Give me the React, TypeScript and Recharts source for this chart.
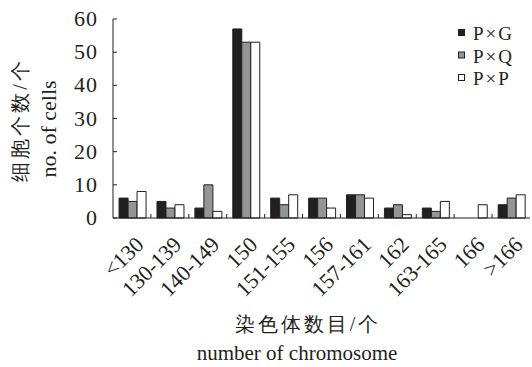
import React from 'react';
import { BarChart, Bar, XAxis, YAxis } from 'recharts';

// 染色体数目分布 — three crosses
const categories = ['<130', '130-139', '140-149', '150', '151-155', '156', '157-161', '162', '163-165', '166', '>166'];
const pxg = [6, 5, 3, 57, 6, 6, 7, 3, 3, 0, 4];
const pxq = [5, 3, 10, 53, 4, 6, 7, 4, 2, 0, 6];
const pxp = [8, 4, 2, 53, 7, 3, 6, 1, 5, 4, 7];
const yTicks = [0, 10, 20, 30, 40, 50, 60];

const series = [
  { key: 'pxg', name: 'P×G', fill: '#231f20' },
  { key: 'pxq', name: 'P×Q', fill: '#939598' },
  { key: 'pxp', name: 'P×P', fill: '#ffffff' },
];

const data = categories.map((c, i) => ({ cat: c, pxg: pxg[i], pxq: pxq[i], pxp: pxp[i] }));

const FONT = '"Liberation Serif", "Times New Roman", serif';
const INK = '#231f20';
const W = 532;
const H = 367;
const LEFT = 113;
const RIGHT = 2;
const TOP = 19;
const XH = 149;
const band = (W - LEFT - RIGHT) / categories.length;

const XTick = (props: any) => {
  const { x, payload, index } = props;
  const axisY = H - XH;
  return (
    <g>
      {index < categories.length - 1 && (
        <line x1={x + band / 2} x2={x + band / 2} y1={axisY} y2={axisY - 4} stroke={INK} strokeWidth={1} />
      )}
      <text
        transform={`translate(${x + 13},${axisY + 28}) rotate(-45)`}
        textAnchor="end"
        fontFamily={FONT}
        fontSize={22}
        fill={INK}
      >
        {payload.value}
      </text>
    </g>
  );
};

const YTick = (props: any) => {
  const { y, payload } = props;
  return (
    <g>
      <line x1={LEFT} x2={LEFT + 4} y1={y} y2={y} stroke={INK} strokeWidth={1} />
      <text x={LEFT - 15} y={y} dy={7} textAnchor="end" fontFamily={FONT} fontSize={22} letterSpacing={1} fill={INK}>
        {payload.value}
      </text>
    </g>
  );
};

export default function App() {
  return (
    <div style={{ position: 'absolute', left: 0, top: 0, width: W, height: H, background: '#fff' }}>
      <BarChart
        width={W}
        height={H}
        data={data}
        margin={{ top: TOP, right: RIGHT, left: 0, bottom: 0 }}
        barCategoryGap="16%"
        barGap={0}
      >
        <XAxis
          dataKey="cat"
          interval={0}
          height={XH}
          tick={<XTick />}
          tickLine={false}
          axisLine={{ stroke: INK, strokeWidth: 1 }}
        />
        <YAxis
          domain={[0, 60]}
          ticks={yTicks}
          width={LEFT}
          tick={<YTick />}
          tickLine={false}
          axisLine={{ stroke: INK, strokeWidth: 1 }}
        />
        {series.map((s) => (
          <Bar key={s.key} dataKey={s.key} name={s.name} fill={s.fill} stroke={INK} strokeWidth={1} isAnimationActive={false} />
        ))}
      </BarChart>
      <svg width={W} height={H} style={{ position: 'absolute', left: 0, top: 0, pointerEvents: 'none' }}>
        {/* legend */}
        {series.map((s, i) => (
          <g key={s.key}>
            <rect x={458.5} y={29.5 + i * 22.5} width={6} height={6} fill={s.fill} stroke={INK} strokeWidth={1} />
            <text x={473} y={40 + i * 22.5} fontFamily={FONT} fontSize={19} letterSpacing={2} fill={INK}>
              {s.name}
            </text>
          </g>
        ))}
        {/* axis titles */}
        <text transform="translate(27,120) rotate(-90)" textAnchor="middle" fontFamily={FONT} fontSize={20} letterSpacing={3} fill={INK}>
          细胞个数/个
        </text>
        <text transform="translate(56,129) rotate(-90)" textAnchor="middle" fontFamily={FONT} fontSize={22} fill={INK}>
          no. of cells
        </text>
        <text x={308} y={331} textAnchor="middle" fontFamily={FONT} fontSize={20} letterSpacing={3} fill={INK}>
          染色体数目/个
        </text>
        <text x={297} y={360} textAnchor="middle" fontFamily={FONT} fontSize={21} fill={INK}>
          number of chromosome
        </text>
      </svg>
    </div>
  );
}
